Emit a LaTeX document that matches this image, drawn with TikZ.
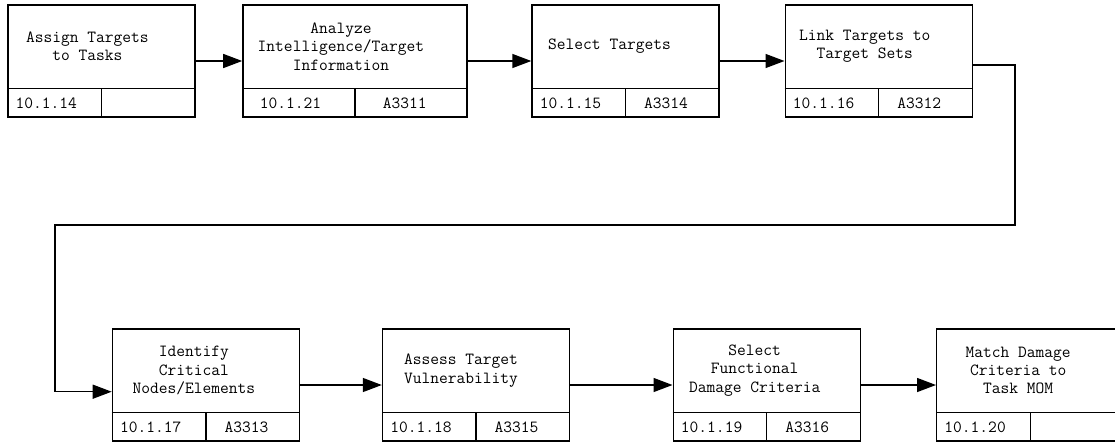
\documentclass[tikz,border=0pt]{standalone}
\usepackage{fontspec}
\usetikzlibrary{arrows.meta,calc}

\begin{document}
\begin{tikzpicture}[x=1pt,y=-1pt,line width=1.4pt,
  task/.style={draw,rectangle,minimum width=187pt,minimum height=112pt,inner sep=0pt},
  title/.style={font=\ttfamily\fontsize{17}{18.3}\selectfont,align=center,inner sep=0pt},
  cell/.style={font=\ttfamily\fontsize{17}{18.3}\selectfont,inner sep=0pt},
  flow/.style={-{Triangle[length=19pt,width=14pt]}}]

\useasboundingbox (0,0) rectangle (1115,442);
\clip (0,0) rectangle (1115,442);

% upper row
\node[task] (s14) at (101.3,61) {};
\node[task,minimum width=224pt] (s21) at (354.9,61) {};
\node[task] (s15) at (625.5,61) {};
\node[task] (s16) at (878.7,61) {};

% lower row
\node[task] (s17) at (205.9,385) {};
\node[task] (s18) at (476,385) {};
\node[task] (s19) at (766.7,385) {};
\node[task] (s20) at (1030.2,385) {};

\node[title] (s14t) at ($(s14.center)+(-14pt,14.5pt)$) {Assign Targets\\to Tasks};
\node[title] (s21t) at ($(s21.center)+(-14pt,14.5pt)$) {Analyze\\Intelligence/Target\\Information};
\node[title] (s15t) at ($(s15.center)+(-16pt,14.5pt)$) {Select Targets};
\node[title] (s16t) at ($(s16.center)+(-14pt,14.5pt)$) {Link Targets to\\Target Sets};
\node[title] (s17t) at ($(s17.center)+(-12pt,14.5pt)$) {Identify\\Critical\\Nodes/Elements};
\node[title] (s18t) at ($(s18.center)+(-15pt,14.5pt)$) {Assess Target\\Vulnerability};
\node[title] (s19t) at ($(s19.center)+(-12pt,14.5pt)$) {Select\\Functional\\Damage Criteria};
\node[title] (s20t) at ($(s20.center)+(-12pt,14.5pt)$) {Match Damage\\Criteria to\\Task MOM};

% reference cells along the bottom of each box
\foreach \n/\num/\code in {s14/10.1.14/{},s21/10.1.21/A3311,s15/10.1.15/A3314,
  s16/10.1.16/A3312,s17/10.1.17/A3313,s18/10.1.18/A3315,s19/10.1.19/A3316,s20/10.1.20/{}}{
  \draw ($(\n.south west)+(0pt,29pt)$) -- ($(\n.south east)+(0pt,29pt)$);
  \draw ($(\n.south)+(0pt,29pt)$) -- (\n.south);
  \node[cell] (\n-num) at ($(\n.south west)!.5!(\n.south)+(-8pt,14.5pt)$) {\num};
  \node[cell] (\n-code) at ($(\n.south)!.5!(\n.south east)+(-6.5pt,14.5pt)$) {\code};
}

\draw[flow] (s14.east) -- (s21.west);
\draw[flow] (s21.east) -- (s15.west);
\draw[flow] (s15.east) -- (s16.west);

\coordinate (bendR) at (1015,225);
\coordinate (bendL) at (55,225);
\draw[flow] ([yshift=-4pt]s16.east) -| (bendR) -- (bendL) |- ([yshift=-6.7pt]s17.west);

\draw[flow] (s17.east) -- (s18.west);
\draw[flow] (s18.east) -- (s19.west);
\draw[flow] (s19.east) -- (s20.west);
\end{tikzpicture}
\end{document}
